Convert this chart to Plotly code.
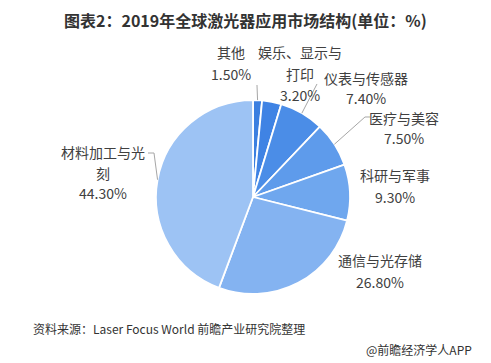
import math
import plotly.graph_objects as go

# ---- data ----
categories = ["其他", "娱乐、显示与打印", "仪表与传感器", "医疗与美容", "科研与军事", "通信与光存储", "材料加工与光刻"]
shares = [1.5, 3.2, 7.4, 7.5, 9.3, 26.8, 44.3]
share_text = ["1.50%", "3.20%", "7.40%", "7.50%", "9.30%", "26.80%", "44.30%"]
label_lines = [["其他"], ["娱乐、显示与", "打印"], ["仪表与传感器"], ["医疗与美容"],
               ["科研与军事"], ["通信与光存储"], ["材料加工与光", "刻"]]

title_text = "图表2：2019年全球激光器应用市场结构(单位：%)"
source_text = "资料来源：Laser Focus World 前瞻产业研究院整理"
credit_text = "@前瞻经济学人APP"

# ---- layout / style ----
W, H = 491, 363
CX, CY, R = 253, 197, 97
colors = ["#3b7fe0", "#3f83e4", "#4b8de7", "#5e9beb", "#6fa7ee", "#84b3f1", "#9dc3f4"]
FONT = "Noto Sans CJK SC"
TXT = "#404040"
# label block (x center, y of first line, line gap) in pixels
label_pos = [(231, 52, 21.5), (300, 52, 21.5), (366, 78, 20), (404, 118, 20),
             (395, 175, 22), (380, 260, 22), (103, 152, 20.5)]
# leader elbows (pixels), None = no leader
leader_pts = [[(257, 85)], None, [(317, 84)], [(365, 117), (370, 117)], None, None,
              [(154, 153), (148, 153)]]


def px(x):
    return x / W


def py(y):
    return 1 - y / H


fig = go.Figure(go.Pie(
    labels=categories, values=shares, sort=False, direction="clockwise", rotation=0,
    marker=dict(colors=colors, line=dict(color="white", width=1.8)),
    textinfo="none", hoverinfo="label+percent", showlegend=False,
    domain=dict(x=[px(CX - R), px(CX + R)], y=[py(CY + R), py(CY - R)]),
))

annotations = []
shapes = []
total = sum(shares)
cum = 0
for i, v in enumerate(shares):
    mid = (cum + v / 2) / total * 2 * math.pi
    cum += v
    ex = CX + R * math.sin(mid)
    ey = CY - R * math.cos(mid)
    lx, ly, gap = label_pos[i]
    lines = label_lines[i] + [share_text[i]]
    for k, t in enumerate(lines):
        annotations.append(dict(
            x=px(lx), y=py(ly + k * gap), xref="paper", yref="paper",
            text=t, showarrow=False, xanchor="center", yanchor="middle", borderpad=0,
            font=dict(family=FONT, size=14, color=TXT)))
    if leader_pts[i]:
        pts = [(ex, ey)] + leader_pts[i]
        path = "M " + " L ".join(f"{px(a):.5f},{py(b):.5f}" for a, b in pts)
        shapes.append(dict(type="path", path=path, xref="paper", yref="paper",
                           line=dict(color="#a6a6a6", width=1)))

annotations.append(dict(x=px(246), y=py(20), xref="paper", yref="paper", text="<b>" + title_text + "</b>",
                        showarrow=False, xanchor="center", yanchor="middle",
                        font=dict(family=FONT, size=16, color="#333333")))
annotations.append(dict(x=px(31), y=py(328), xref="paper", yref="paper", text=source_text,
                        showarrow=False, xanchor="left", yanchor="middle",
                        font=dict(family=FONT, size=12, color="#333333")))
annotations.append(dict(x=px(474), y=py(349), xref="paper", yref="paper", text=credit_text,
                        showarrow=False, xanchor="right", yanchor="middle",
                        font=dict(family=FONT, size=12, color="#333333")))

fig.update_layout(
    width=W, height=H, margin=dict(l=0, r=0, t=0, b=0),
    paper_bgcolor="white", plot_bgcolor="white",
    annotations=annotations, shapes=shapes,
)

fig.write_html("out.html", config={"displayModeBar": False},
               post_script="document.body.style.margin='0';document.body.style.overflow='hidden';")
